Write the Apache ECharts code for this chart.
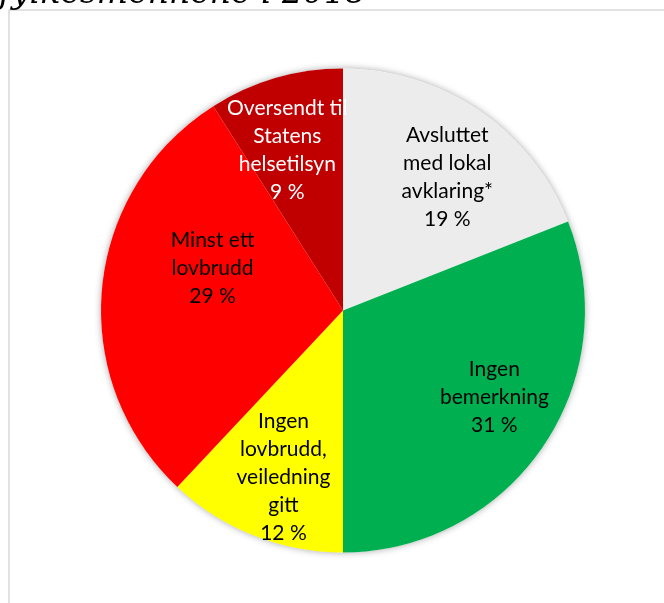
<!DOCTYPE html>
<html>
<head>
<meta charset="utf-8">
<script src="https://cdn.jsdelivr.net/npm/echarts@6/dist/echarts.min.js"></script>
<style>
html,body{margin:0;padding:0;background:#fff;}
#chart{width:664px;height:603px;}
</style>
</head>
<body>
<div id="chart"></div>
<script>
// Data
const categories = [
  'Avsluttet\nmed lokal\navklaring*',
  'Ingen\nbemerkning',
  'Ingen\nlovbrudd,\nveiledning\ngitt',
  'Minst ett\nlovbrudd',
  'Oversendt til\nStatens\nhelsetilsyn'
];
const values = [19, 31, 12, 29, 9];
const titleText = 'Utfall av tilsynssaker behandlet av fylkesmennene i 2018';

// Styling
const colors = ['#ececec', '#00b050', '#ffff00', '#ff0000', '#c00000'];
const labelColors = ['#000', '#000', '#000', '#000', '#fff'];
const labelAngleShift = [3.8, -4.5, -1.9, 12.6, -3.0];   // degrees, relative to slice middle
const labelRadiusRatio = [0.70, 0.72, 0.73, 0.567, 0.70];
const CX = 343, CY = 310.5, R = 242;
const TITLE_FS = 33;

const total = values.reduce((a, b) => a + b, 0);
const midAngles = [];
let acc = 0;
values.forEach(v => { midAngles.push((acc + v / 2) / total * 360); acc += v; });

const chart = echarts.init(document.getElementById('chart'));
chart.setOption({
  animation: false,
  graphic: [
    { type: 'rect', shape: { x: 9, y: 10, width: 700, height: 650 },
      style: { fill: 'none', stroke: '#d9d9d9', lineWidth: 1.5 }, z: 0 },
    { type: 'text', style: { text: titleText, x: 366, y: 6 - 0.346 * TITLE_FS, align: 'right', verticalAlign: 'middle',
      font: 'italic ' + TITLE_FS + 'px "DejaVu Serif"', fill: '#000' }, z: 5 }
  ],
  series: [
    {
      type: 'pie', silent: true, z: 1,
      center: [CX, CY], radius: [0, R],
      label: { show: false }, labelLine: { show: false },
      itemStyle: { color: '#ffffff', shadowBlur: 7, shadowColor: 'rgba(0,0,0,0.35)' },
      data: [{ value: 1 }]
    },
    {
      type: 'pie', z: 2,
      center: [CX, CY], radius: [0, R],
      startAngle: 90, clockwise: true,
      silent: true,
      itemStyle: { borderWidth: 0 },
      label: {
        show: true, position: 'inside',
        fontFamily: 'Lato', fontSize: 21, lineHeight: 28,
        align: 'center',
        formatter: p => p.name + '\n' + p.value + ' %'
      },
      labelLine: { show: false },
      labelLayout: function (params) {
        const i = params.dataIndex;
        const a = (midAngles[i] + labelAngleShift[i]) * Math.PI / 180;
        const r = R * labelRadiusRatio[i];
        return { x: CX + r * Math.sin(a), y: CY - r * Math.cos(a), align: 'center', verticalAlign: 'middle' };
      },
      data: categories.map((c, i) => ({
        name: c, value: values[i],
        itemStyle: { color: colors[i] },
        label: { color: labelColors[i] }
      }))
    }
  ]
});
</script>
</body>
</html>
